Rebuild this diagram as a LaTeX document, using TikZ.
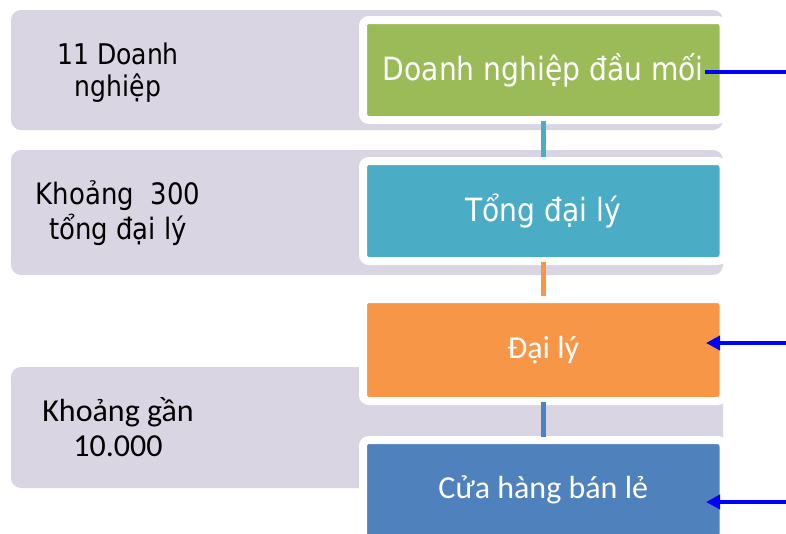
\documentclass[tikz,border=0pt]{standalone}
\usepackage{fontspec}
\usetikzlibrary{arrows.meta}
\newfontfamily\tahomalike[FakeStretch=0.88]{DejaVu Sans}
\newfontfamily\calibrilike{Carlito}
\definecolor{panelgray}{RGB}{217,213,226}
\definecolor{cgreen}{RGB}{155,187,89}
\definecolor{cteal}{RGB}{75,172,198}
\definecolor{corange}{RGB}{247,150,70}
\definecolor{cblue}{RGB}{79,129,189}
\definecolor{arrowblue}{RGB}{0,0,255}
\begin{document}
\begin{tikzpicture}[x=1pt,y=-1pt,
  panel/.style={fill=panelgray, rounded corners=10pt},
  box/.style={draw=white, line width=8pt, rounded corners=6pt, minimum width=360.5pt, inner sep=0pt, text=white},
  lbl/.style={align=center, text=black},
  link/.style={line width=5pt, shorten <=-3pt},
  feed/.style={draw=arrowblue, line width=3.5pt},
  tip/.style={{Triangle[length=14pt,width=14pt]}-}
]
\useasboundingbox (0,0) rectangle (786,533);
\clip (0,0) rectangle (786,533);

% panel 1
\fill[panel] (11,10) rectangle (723,130);
\node[box, fill=cgreen, minimum height=100pt, font=\tahomalike\fontsize{32}{38}\selectfont] (b1) at (543.25,70) {Doanh nghiệp đầu mối};
\node[lbl, font=\tahomalike\fontsize{28.5}{32}\selectfont] (l1) at (118,73) {11 Doanh\\nghiệp};

% panel 2
\fill[panel] (11,150) rectangle (723,275);
\node[box, fill=cteal, minimum height=100pt, font=\tahomalike\fontsize{32}{38}\selectfont] (b2) at (543.25,211) {Tổng đại lý};
\node[lbl, font=\tahomalike\fontsize{29.5}{35}\selectfont] (l2) at (118,213) {Khoảng\ \ 300\\tổng đại lý};

% panel 3
\fill[panel] (11,367) rectangle (723,488);
\node[box, fill=corange, minimum height=102pt, font=\calibrilike\fontsize{32}{38}\selectfont] (b3) at (543.25,350) {Đại lý};
\node[box, fill=cblue, minimum height=100pt, font=\calibrilike\fontsize{32}{38}\selectfont] (b4) at (543.25,490) {Cửa hàng bán lẻ};
\node[lbl, font=\calibrilike\fontsize{32}{35}\selectfont] (l3) at (118,427) {Khoảng gần\\10.000};

% vertical links
\draw[link, cteal] (b1.south) -- (b2.north);
\draw[link, corange, shorten >=-1pt] (b2.south) -- (b3.north);
\draw[link, cblue, shorten >=-1pt] (b3.south) -- (b4.north);

% blue feed lines
\coordinate (s1) at (705,72);
\coordinate (e1) at (786,72);
\coordinate (t2) at (706,343);
\coordinate (e2) at (786,343);
\coordinate (t3) at (706,502);
\coordinate (e3) at (786,502);
\draw[feed] (s1) -- (e1);
\draw[feed, tip, fill=arrowblue] (t2) -- (e2);
\draw[feed, tip, fill=arrowblue] (t3) -- (e3);
\end{tikzpicture}
\end{document}
